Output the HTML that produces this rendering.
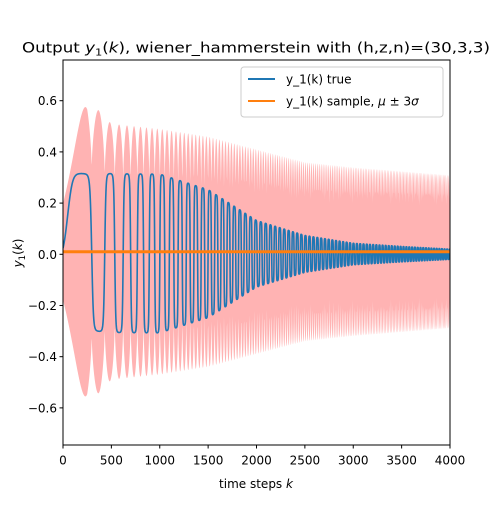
<!DOCTYPE html>
<html><head><meta charset="utf-8"><style>
body{margin:0;background:#fff}
svg{font-family:"DejaVu Sans","Liberation Sans",sans-serif}
</style></head><body>
<svg id="chart" width="500" height="500" viewBox="0 0 500 500" xmlns="http://www.w3.org/2000/svg">
<rect width="500" height="500" fill="#fff"/>
<g id="plot"></g>
<g id="axes"></g>
<text x="22" y="52.5" font-size="14.5" textLength="468" lengthAdjust="spacingAndGlyphs">Output <tspan font-style="italic">y</tspan><tspan font-size="10" dy="3">1</tspan><tspan dy="-3">(</tspan><tspan font-style="italic">k</tspan>), wiener_hammerstein with (h,z,n)=(30,3,3)</text>
<text x="256" y="488" font-size="12" text-anchor="middle">time steps <tspan font-style="italic">k</tspan></text>
<text transform="translate(22,253) rotate(-90)" font-size="12" text-anchor="middle"><tspan font-style="italic">y</tspan><tspan font-size="8.5" dy="3">1</tspan><tspan dy="-3">(</tspan><tspan font-style="italic">k</tspan>)</text>
<g>
<rect x="241" y="67" width="202" height="50" rx="3" fill="#fff" fill-opacity="0.8" stroke="#ccc"/>
<line x1="248" y1="79" x2="275" y2="79" stroke="#1f77b4" stroke-width="2"/>
<text x="286" y="83.5" font-size="12">y_1(k) true</text>
<line x1="248" y1="101" x2="275" y2="101" stroke="#ff7f0e" stroke-width="2"/>
<text x="286" y="105.5" font-size="12">y_1(k) sample, <tspan font-style="italic">μ</tspan> ± 3<tspan font-style="italic">σ</tspan></text>
</g>
</svg>
<script>
const knotsK=[0,500,1000,1500,2000,2500,3000,3500,4000];
const freqKnots=[0.0003,0.005,0.0097,0.0144,0.0191,0.0238,0.0285,0.0332,0.0379];
const ampKnots=[0.30,0.31,0.31,0.25,0.13,0.072,0.042,0.03,0.02];
const pinkK=[0,250,500,1000,1500,2000,2500,3000,4000];
const pinkKnots=[0.33,0.6,0.5,0.48,0.45,0.4,0.35,0.33,0.3];
const sampleMean=0.01;
const xTicks=[0,500,1000,1500,2000,2500,3000,3500,4000];
const yTicks=[-0.6,-0.4,-0.2,0.0,0.2,0.4,0.6];
const X0=63,X1=450,Y0=60,Y1=445,xMin=0,xMax=4000,yMin=-0.745,yMax=0.759;
const sx=v=>X0+(v-xMin)/(xMax-xMin)*(X1-X0);
const sy=v=>Y1-(v-yMin)/(yMax-yMin)*(Y1-Y0);
function interp(ks,vs,k){for(let i=0;i<ks.length-1;i++){if(k<=ks[i+1]){const t=(k-ks[i])/(ks[i+1]-ks[i]);return vs[i]+t*(vs[i+1]-vs[i]);}}return vs[vs.length-1];}
const NS="http://www.w3.org/2000/svg";
const plot=document.getElementById('plot'),axes=document.getElementById('axes');
function mk(tag,attrs,parent){const e=document.createElementNS(NS,tag);for(const a in attrs)e.setAttribute(a,attrs[a]);parent.appendChild(e);return e;}
const cp=mk('clipPath',{id:'cp'},plot);mk('rect',{x:X0,y:Y0,width:X1-X0,height:Y1-Y0},cp);
let phase=0;const up=[],lo=[],blue=[];
for(let k=0;k<=4000;k+=2){
  const f=interp(knotsK,freqKnots,k);
  const s=Math.sin(2*Math.PI*phase);
  const A=interp(knotsK,ampKnots,k);
  const y=A*Math.tanh(3*s)/Math.tanh(3)+0.02*Math.exp(-k/200)+0.004*(1-k/4000);
  blue.push(sx(k).toFixed(2)+','+sy(y).toFixed(2));
  const pe=interp(pinkK,pinkKnots,k)*(0.55+0.45*Math.pow(Math.abs(s),0.6));
  up.push(sx(k).toFixed(2)+','+sy(sampleMean+pe).toFixed(2));
  lo.push(sx(k).toFixed(2)+','+sy(sampleMean-pe).toFixed(2));
  phase+=f*2;
}
const band=mk('polygon',{points:up.concat(lo.reverse()).join(' '),fill:'#ffb3b3','clip-path':'url(#cp)'},plot);


const bl=mk('polyline',{points:blue.join(' '),fill:'none',stroke:'#1f77b4','stroke-width':1.6,'clip-path':'url(#cp)'},plot);


const ol=mk('line',{x1:X0,x2:X1,y1:sy(sampleMean),y2:sy(sampleMean),stroke:'#ff7f0e','stroke-width':3},plot);


const fr=mk('rect',{x:X0,y:Y0,width:X1-X0,height:Y1-Y0,fill:'none',stroke:'#000','stroke-width':1},axes);


xTicks.forEach(v=>{const x=sx(v);
  const t=mk('line',{x1:x,x2:x,y1:Y1,y2:Y1+3.5,stroke:'#000'},axes);
  
  
  const l=mk('text',{x:x,y:Y1+19.5,'font-size':12,'text-anchor':'middle'},axes);l.textContent=v;
  
  });
yTicks.forEach(v=>{const y=sy(v);
  const t=mk('line',{x1:X0-3.5,x2:X0,y1:y,y2:y,stroke:'#000'},axes);
  
  
  const l=mk('text',{x:X0-6,y:y+4.5,'font-size':12,'text-anchor':'end'},axes);l.textContent=(v<0?'−':'')+Math.abs(v).toFixed(1);
  
  });
</script>
</body></html>
